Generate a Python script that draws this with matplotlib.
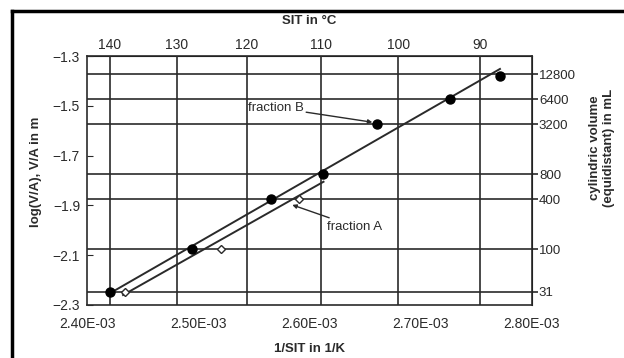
import numpy as np
import matplotlib.pyplot as plt
from matplotlib.lines import Line2D

plt.rcParams['font.family'] = ['Liberation Sans', 'DejaVu Sans']

# fraction B (filled circles) and fraction A (open diamonds)
b_x = [2.4204e-3, 2.4943e-3, 2.5655e-3, 2.6117e-3, 2.6604e-3, 2.7261e-3, 2.7712e-3]
b_y = [-2.249, -2.076, -1.875, -1.774, -1.572, -1.471, -1.380]
a_x = [2.4342e-3, 2.5200e-3, 2.5905e-3]
a_y = [-2.249, -2.076, -1.875]

# straight fit lines as drawn in the figure
line_b_x = [2.4225e-3, 2.7712e-3]
line_b_y = [-2.248, -1.352]
line_a_x = [2.4324e-3, 2.6126e-3]
line_a_y = [-2.260, -1.805]

x_ticks = [2.40e-3, 2.50e-3, 2.60e-3, 2.70e-3, 2.80e-3]
x_labels = ['2.40E-03', '2.50E-03', '2.60E-03', '2.70E-03', '2.80E-03']
y_ticks = [-1.3, -1.5, -1.7, -1.9, -2.1, -2.3]
temp_ticks = [140, 130, 120, 110, 100, 90]
vol_ticks = [12800, 6400, 3200, 800, 400, 100, 31]

dark = '#2a2a2a'


def inv_to_temp(x):
    x = np.asarray(x, dtype=float)
    with np.errstate(divide='ignore'):
        return 1.0 / x - 273.15


def temp_to_inv(t):
    t = np.asarray(t, dtype=float)
    with np.errstate(divide='ignore'):
        return 1.0 / (t + 273.15)


def vol_to_log(v):
    # equidistant cylinder: V = 2*pi*r^3, V/A = r/3
    v = np.clip(np.asarray(v, dtype=float), 1e-12, None)
    r = (v * 1e-6 / (2 * np.pi)) ** (1 / 3)
    return np.log10(r / 3)


def log_to_vol(y):
    y = np.asarray(y, dtype=float)
    return 2 * np.pi * (3 * 10 ** y) ** 3 * 1e6


fig = plt.figure(figsize=(6.24, 3.58), dpi=100)
ax = fig.add_axes([87 / 624, 1 - 305 / 358, 445 / 624, 249 / 358])
ax.set_xlim(2.40e-3, 2.80e-3)
ax.set_ylim(-2.3, -1.3)

# grid lines at the secondary scales
for t in temp_ticks:
    ax.axvline(temp_to_inv(t), color=dark, lw=1.2, zorder=1)
for v in vol_ticks:
    ax.axhline(vol_to_log(v), color=dark, lw=1.2, zorder=1)

ax.plot(line_b_x, line_b_y, color=dark, lw=1.4, zorder=2)
ax.plot(line_a_x, line_a_y, color=dark, lw=1.4, zorder=2)
ax.plot(b_x, b_y, 'o', color='black', ms=6.5, zorder=3)
ax.plot(a_x, a_y, 'D', mfc='white', mec=dark, mew=1.0, ms=4, zorder=3)

ax.annotate('fraction B', xy=(2.6565e-3, -1.566), xytext=(2.5945e-3, -1.507),
            ha='right', va='center', fontsize=9.5, color=dark,
            arrowprops=dict(arrowstyle='-|>', color=dark, lw=1.0,
                            mutation_scale=6, shrinkA=0, shrinkB=0))
ax.annotate('fraction A', xy=(2.5845e-3, -1.898), xytext=(2.6155e-3, -1.985),
            ha='left', va='center', fontsize=9.5, color=dark,
            arrowprops=dict(arrowstyle='-|>', color=dark, lw=1.0,
                            mutation_scale=6, shrinkA=0, shrinkB=0))

ax.set_xticks(x_ticks)
ax.set_xticklabels(x_labels)
ax.set_yticks(y_ticks)
ax.tick_params(axis='x', length=0, pad=9, labelsize=10, colors=dark)
ax.tick_params(axis='y', direction='in', length=4, pad=5, labelsize=10,
               colors=dark)
for s in ax.spines.values():
    s.set_color(dark)
    s.set_linewidth(1.2)

top = ax.secondary_xaxis('top', functions=(inv_to_temp, temp_to_inv))
top.set_xticks(temp_ticks)
top.tick_params(length=0, pad=3, labelsize=10, colors=dark)

right = ax.secondary_yaxis('right', functions=(log_to_vol, vol_to_log))
right.set_yticks(vol_ticks)
right.set_yticklabels([str(v) for v in vol_ticks])
right.tick_params(direction='out', length=4, width=1.2, pad=1, labelsize=9.5,
                  colors=dark)

fig.text(309 / 624, 1 - 21 / 358, 'SIT in °C', ha='center', va='center',
         fontsize=9.5, fontweight='bold', color=dark)
fig.text(309 / 624, 1 - 349 / 358, '1/SIT in 1/K', ha='center', va='center',
         fontsize=9.5, fontweight='bold', color=dark)
fig.text(36 / 624, 1 - 172 / 358, 'log(V/A), V/A in m', ha='center',
         va='center', rotation=90, fontsize=9.5, fontweight='bold', color=dark)
fig.text(602 / 624, 1 - 148 / 358, 'cylindric volume\n(equidistant) in mL',
         ha='center', va='center', rotation=90, fontsize=9.5,
         fontweight='bold', color=dark, linespacing=1.3)

# black frame on the left and top edge of the picture
fig.add_artist(Line2D([12 / 624, 12 / 624], [0, 1 - 11 / 358], color='black',
                      lw=2.5, transform=fig.transFigure))
fig.add_artist(Line2D([12 / 624, 1], [1 - 11 / 358, 1 - 11 / 358],
                      color='black', lw=2.5, transform=fig.transFigure))

fig.savefig('out.png', dpi=100)
